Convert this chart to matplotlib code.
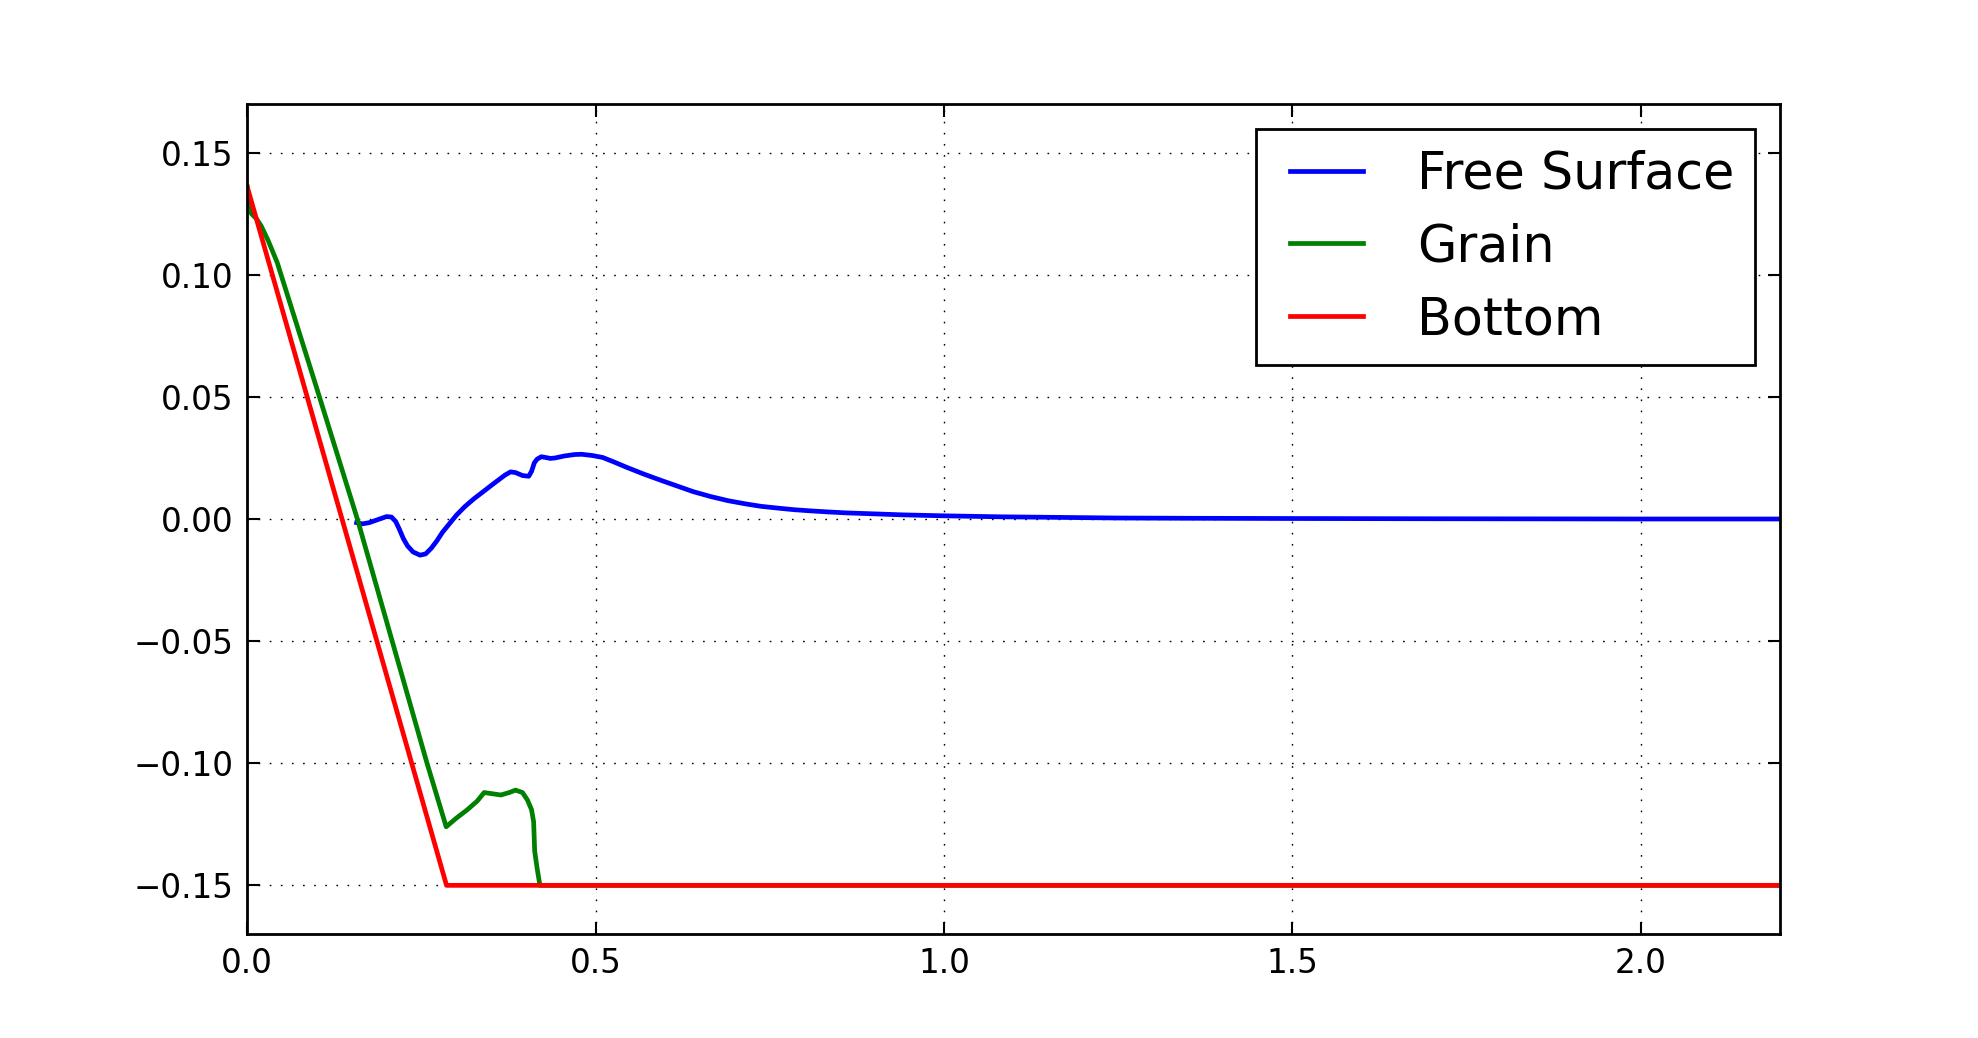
import numpy as np
import matplotlib
matplotlib.use('Agg')
import matplotlib.pyplot as plt
from matplotlib.legend_handler import HandlerLine2D

# free surface elevation
surf_x = [0.157, 0.165, 0.175, 0.190, 0.200, 0.207, 0.213, 0.218, 0.224, 0.230,
          0.238, 0.248, 0.256, 0.264, 0.272, 0.280, 0.290, 0.300, 0.312, 0.325,
          0.340, 0.355, 0.370, 0.378, 0.385, 0.395, 0.404, 0.408, 0.412, 0.416,
          0.422, 0.428, 0.435, 0.442, 0.455, 0.470, 0.480, 0.495, 0.510, 0.525,
          0.545, 0.570, 0.595, 0.620, 0.640, 0.665, 0.690, 0.715, 0.737, 0.760,
          0.785, 0.810, 0.833, 0.860, 0.880, 0.910, 0.940, 0.970, 1.0, 1.04,
          1.08, 1.15, 1.25, 1.35, 1.5, 1.7, 2.0, 2.2]
surf_y = [-0.0015, -0.002, -0.0015, 0.0, 0.001, 0.0008, -0.001, -0.004, -0.008, -0.011,
          -0.0135, -0.0148, -0.0143, -0.012, -0.009, -0.0055, -0.002, 0.0015, 0.005, 0.0082,
          0.0115, 0.0148, 0.018, 0.0193, 0.019, 0.0178, 0.0175, 0.0195, 0.023, 0.0245,
          0.0255, 0.0252, 0.0248, 0.025, 0.0258, 0.0264, 0.0265, 0.026, 0.0252, 0.0235,
          0.0211, 0.0183, 0.0157, 0.0132, 0.0112, 0.0092, 0.0075, 0.0062, 0.0052, 0.0045,
          0.0038, 0.0033, 0.0029, 0.0025, 0.0023, 0.002, 0.0017, 0.0015, 0.0013, 0.0011,
          0.0009, 0.0007, 0.0004, 0.0003, 0.0002, 0.0001, 0.0, 0.0]

# grain layer
grain_x = [0.0, 0.006, 0.013, 0.020, 0.030, 0.043, 0.100, 0.158, 0.208, 0.258,
           0.2855, 0.300, 0.316, 0.330, 0.340, 0.352, 0.364, 0.376, 0.385, 0.395,
           0.402, 0.408, 0.411, 0.4125, 0.416, 0.420, 2.2]
grain_y = [0.136, 0.125, 0.123, 0.120, 0.114, 0.105, 0.0533, 0.0, -0.050, -0.100,
           -0.126, -0.1225, -0.119, -0.1155, -0.112, -0.1125, -0.113, -0.112, -0.111, -0.112,
           -0.115, -0.119, -0.124, -0.136, -0.143, -0.150, -0.150]

# bed
bottom_x = [0.0, 0.286, 2.2]
bottom_y = [0.136, -0.15, -0.15]

xticks = [0.0, 0.5, 1.0, 1.5, 2.0]
yticks = [-0.15, -0.10, -0.05, 0.00, 0.05, 0.10, 0.15]


class InsetLine(HandlerLine2D):
    # legend line that leaves a bit of blank space on its left
    def create_artists(self, legend, orig_handle, xdescent, ydescent, width, height,
                       fontsize, trans):
        shift = 0.27 * fontsize
        return super().create_artists(legend, orig_handle, xdescent - shift, ydescent,
                                      width - shift, height, fontsize, trans)


fig = plt.figure(figsize=(19.78, 10.38), dpi=100, facecolor='white')
ax = fig.add_axes([0.125, 0.1, 0.775, 0.8])

l1, = ax.plot(surf_x, surf_y, color='blue', lw=3.4, label='Free Surface')
l2, = ax.plot(grain_x, grain_y, color='green', lw=3.4, label='Grain')
l3, = ax.plot(bottom_x, bottom_y, color='red', lw=3.4, label='Bottom')

ax.set_xlim(0, 2.2)
ax.set_ylim(-0.17, 0.17)
ax.set_xticks(xticks)
ax.set_yticks(yticks)
ax.set_yticklabels(['%.2f' % v if v >= 0 else '\u2212%.2f' % -v for v in yticks])
ax.tick_params(direction='in', length=9, width=1.5, labelsize=23.5, top=True, right=True)
ax.tick_params(axis='x', pad=9)
ax.tick_params(axis='y', pad=10)
for sp in ax.spines.values():
    sp.set_linewidth(2.0)

ax.grid(True, color='black', linestyle=(0, (1.2, 6.8)), linewidth=1.0)

hm = {l1: InsetLine(), l2: InsetLine(), l3: InsetLine()}
leg = ax.legend(loc='upper right', fontsize=36.5, handlelength=1.71, handletextpad=1.07,
                borderpad=0.4, labelspacing=0.45, borderaxespad=0.5, fancybox=False,
                framealpha=1.0, handler_map=hm)
leg.get_frame().set_edgecolor('black')
leg.get_frame().set_linewidth(2.0)

fig.savefig('out.png', dpi=100, facecolor='white')
